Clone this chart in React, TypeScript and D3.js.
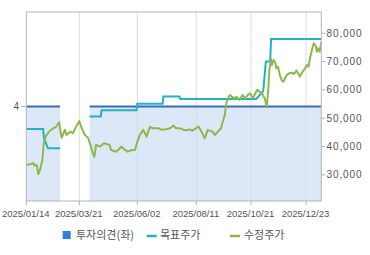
import React from "react";
import * as d3 from "d3";

const xTickDates = ["2025-01-14", "2025-03-21", "2025-06-02", "2025-08-11", "2025-10-21", "2025-12-23"];
const xEndDate = "2026-01-10";
const rightTicks = [30000, 40000, 50000, 60000, 70000, 80000];
const leftTicks = [4];

const opinionDates = ["2025-01-14", "2025-02-25", "2025-02-26", "2025-04-02", "2025-04-03", "2026-01-10"];
const opinionValues: (number | null)[] = [4, 4, null, null, 4, 4];

const targetDates = [
  "2025-01-14", "2025-02-04", "2025-02-05", "2025-02-10", "2025-02-25", "2025-02-26",
  "2025-04-02", "2025-04-03", "2025-04-17", "2025-04-18", "2025-06-01", "2025-06-02",
  "2025-07-02", "2025-07-03", "2025-07-22", "2025-07-23", "2025-10-27", "2025-11-04",
  "2025-11-07", "2025-11-12", "2025-11-13", "2026-01-10",
];
const targetValues: (number | null)[] = [
  46200, 46200, 43000, 39400, 39400, null,
  null, 50600, 50600, 52800, 52800, 55100,
  55100, 57700, 57700, 56800, 56800, 59600,
  70000, 70000, 78000, 78000,
];

const priceDates = [
  "2025-01-14", "2025-01-23", "2025-01-24", "2025-01-27", "2025-01-29", "2025-01-31",
  "2025-02-03", "2025-02-05", "2025-02-07", "2025-02-12", "2025-02-17", "2025-02-20",
  "2025-02-24", "2025-02-25", "2025-02-27", "2025-03-03", "2025-03-05", "2025-03-10",
  "2025-03-13", "2025-03-17", "2025-03-21", "2025-03-24", "2025-03-28", "2025-04-01",
  "2025-04-04", "2025-04-07", "2025-04-09", "2025-04-11", "2025-04-16", "2025-04-21",
  "2025-04-28", "2025-04-30", "2025-05-06", "2025-05-09", "2025-05-13", "2025-05-16",
  "2025-05-21", "2025-05-26", "2025-05-30", "2025-06-02", "2025-06-05", "2025-06-09",
  "2025-06-13", "2025-06-17", "2025-06-20", "2025-06-27", "2025-07-01", "2025-07-07",
  "2025-07-11", "2025-07-15", "2025-07-18", "2025-07-22", "2025-07-28", "2025-08-04",
  "2025-08-06", "2025-08-11", "2025-08-14", "2025-08-20", "2025-08-22", "2025-08-26",
  "2025-09-01", "2025-09-04", "2025-09-08", "2025-09-12", "2025-09-15", "2025-09-17",
  "2025-09-19", "2025-09-22", "2025-09-24", "2025-09-26", "2025-09-30", "2025-10-02",
  "2025-10-06", "2025-10-10", "2025-10-13", "2025-10-17", "2025-10-20", "2025-10-23",
  "2025-10-26", "2025-10-28", "2025-10-31", "2025-11-03", "2025-11-06", "2025-11-08",
  "2025-11-10", "2025-11-11", "2025-11-13", "2025-11-14", "2025-11-16", "2025-11-18",
  "2025-11-19", "2025-11-21", "2025-11-23", "2025-11-25", "2025-11-27", "2025-11-29",
  "2025-12-01", "2025-12-04", "2025-12-07", "2025-12-09", "2025-12-12", "2025-12-14",
  "2025-12-16", "2025-12-19", "2025-12-22", "2025-12-24", "2025-12-26", "2025-12-28",
  "2025-12-30", "2026-01-01", "2026-01-03", "2026-01-05", "2026-01-06", "2026-01-08",
  "2026-01-10",
];
const priceValues = [
  33500, 34100, 33300, 33500, 30300, 31700,
  35300, 41700, 43500, 45500, 46500, 46900,
  48600, 46500, 43100, 45900, 44100, 45300,
  44700, 47000, 49000, 46500, 44100, 43100,
  40600, 37600, 36400, 40600, 40000, 41200,
  40600, 38800, 38200, 38800, 40000, 39200,
  38200, 38800, 38800, 41700, 44100, 45900,
  43500, 47000, 46500, 46500, 45900, 46200,
  46500, 47400, 46500, 46500, 45800, 46000,
  45600, 46500, 47100, 44100, 42900, 45900,
  45300, 44100, 45300, 46500, 49400, 51200,
  55300, 57600, 58200, 57600, 57000, 57600,
  56500, 58200, 57000, 58200, 58800, 57000,
  58800, 60000, 59400, 58600, 56800, 53900,
  61200, 67000, 70800, 68800, 70600, 69400,
  67600, 68200, 65300, 63500, 62900, 64100,
  65300, 65900, 66100, 65600, 66800, 65900,
  64700, 66400, 67600, 68800, 68200, 71700,
  74100, 76500, 75900, 73500, 74700, 73500,
  77000,
];

const legendLabels = ["투자의견(좌)", "목표주가", "수정주가"];

const C = {
  fill: "#dce7f8",
  opinion: "#3b6db4",
  legendBox: "#2f7fdc",
  target: "#1fb2c8",
  price: "#8db94b",
  border: "#b4b4b4",
  grid: "#d9dee6",
  text: "#555555",
};

export default function App() {
  const W = 370, H = 255;
  const left = 26.3, right = 321.3, top = 12, bottom = 201;
  const parse = d3.timeParse("%Y-%m-%d");
  const tickD = xTickDates.map((s) => parse(s)!);
  const x = d3
    .scaleTime()
    .domain([...tickD, parse(xEndDate)!])
    .range([26.3, 79.3, 137.3, 196.3, 251, 306, right]);
  const yR = d3.scaleLinear().domain([20800, 87500]).range([bottom, top]);
  const yL = d3.scaleLinear().domain([0, 8]).range([bottom, top]);
  const fmtTick = d3.timeFormat("%Y/%m/%d");
  const fmtNum = d3.format(",");

  const opinion = opinionDates.map((s, i) => ({ d: parse(s)!, v: opinionValues[i] }));
  const target = targetDates.map((s, i) => ({ d: parse(s)!, v: targetValues[i] }));
  const price = priceDates.map((s, i) => ({ d: parse(s)!, v: priceValues[i] }));

  const area = d3
    .area<{ d: Date; v: number | null }>()
    .defined((p) => p.v != null)
    .x((p) => x(p.d))
    .y0(bottom)
    .y1((p) => yL(p.v as number));
  const opLine = d3
    .line<{ d: Date; v: number | null }>()
    .defined((p) => p.v != null)
    .x((p) => x(p.d))
    .y((p) => yL(p.v as number));
  const rLine = d3
    .line<{ d: Date; v: number | null }>()
    .defined((p) => p.v != null)
    .x((p) => x(p.d))
    .y((p) => yR(p.v as number));

  const axisFont = "'Liberation Sans', Arial, sans-serif";
  const krFont = "'Noto Sans CJK KR', 'Noto Sans', sans-serif";

  return (
    <svg
      width={W}
      height={H}
      viewBox={`0 0 ${W} ${H}`}
      style={{ position: "absolute", left: 0, top: 0, background: "#fff" }}
    >
      <defs>
        <clipPath id="plot">
          <rect x={left} y={top} width={right - left} height={bottom - top} />
        </clipPath>
      </defs>
      <g clipPath="url(#plot)">
        <path d={area(opinion) || ""} fill={C.fill} />
        {tickD.slice(1).map((t, i) => (
          <line key={i} x1={x(t)} x2={x(t)} y1={top} y2={bottom} stroke={C.grid} strokeWidth={1} />
        ))}
        <path d={opLine(opinion) || ""} fill="none" stroke={C.opinion} strokeWidth={2} />
        <path d={rLine(target) || ""} fill="none" stroke={C.target} strokeWidth={2} />
        <path d={rLine(price) || ""} fill="none" stroke={C.price} strokeWidth={2} strokeLinejoin="round" />
      </g>
      <rect x={left} y={top} width={right - left} height={bottom - top} fill="none" stroke={C.border} strokeWidth={1} />
      {tickD.map((t, i) => (
        <g key={i}>
          <line x1={x(t)} x2={x(t)} y1={bottom} y2={bottom + 4} stroke={C.border} />
          <text
            x={x(t) - 0.5}
            y={217}
            textAnchor="middle"
            fontFamily={axisFont}
            fontSize={9.5}
            fill={C.text}
          >
            {fmtTick(t)}
          </text>
        </g>
      ))}
      {rightTicks.map((v) => (
        <g key={v}>
          <line x1={right} x2={right + 4} y1={yR(v)} y2={yR(v)} stroke={C.border} />
          <text
            x={326.5}
            y={yR(v) + 3.5}
            fontFamily={axisFont}
            fontSize={10}
            letterSpacing={0.9}
            fill={C.text}
          >
            {fmtNum(v)}
          </text>
        </g>
      ))}
      {leftTicks.map((v) => (
        <g key={v}>
          <line x1={left - 5} x2={left} y1={yL(v)} y2={yL(v)} stroke={C.border} />
          <text x={19} y={yL(v) + 3.5} textAnchor="end" fontFamily={axisFont} fontSize={10} fill={C.text}>
            {v}
          </text>
        </g>
      ))}
      <rect x={62.7} y={231} width={8} height={8} fill={C.legendBox} />
      <text x={76} y={239} fontFamily={krFont} fontSize={11} fill={C.text}>
        {legendLabels[0]}
      </text>
      <line x1={146.7} x2={156.7} y1={236} y2={236} stroke={C.target} strokeWidth={2.5} />
      <text x={160} y={239} fontFamily={krFont} fontSize={11} fill={C.text}>
        {legendLabels[1]}
      </text>
      <line x1={230} x2={240} y1={236} y2={236} stroke={C.price} strokeWidth={2.5} />
      <text x={244} y={239} fontFamily={krFont} fontSize={11} fill={C.text}>
        {legendLabels[2]}
      </text>
    </svg>
  );
}
